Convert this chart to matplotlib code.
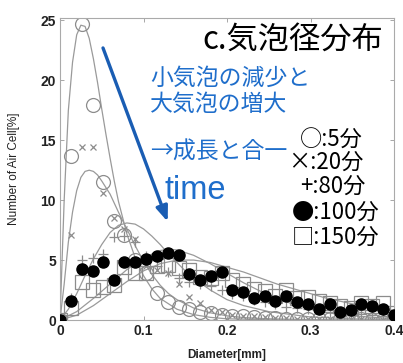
import matplotlib
matplotlib.use('Agg')
import matplotlib.pyplot as plt

plt.rcParams['font.family'] = ['Noto Sans CJK JP', 'DejaVu Sans']

# bin centres [mm] of the measured distribution
diameter = [0.000, 0.013, 0.026, 0.039, 0.052, 0.065, 0.077, 0.090,
            0.103, 0.116, 0.129, 0.142, 0.155, 0.168, 0.181, 0.194,
            0.206, 0.219, 0.232, 0.245, 0.258, 0.271, 0.284, 0.297,
            0.310, 0.323, 0.335, 0.348, 0.361, 0.374, 0.387, 0.400]

min5 = [0.0, 13.7, 24.7, 17.9, 11.5, 8.3, 7.1, 5.0, 3.9, 2.25, 1.5, 1.1,
        0.9, 0.7, 0.55, 0.45, 0.35, 0.3, 0.25, 0.2, 0.15, 0.12, 0.1, 0.1,
        0.08, 0.08, 0.05, 0.05, 0.05, 0.03, 0.03, 0.0]
min20 = [0.0, 7.1, 14.4, 14.4, 10.6, 8.5, 7.6, 6.8, 4.5, 4.2, 3.9, 3.0,
         1.9, 1.4, 0.8, 0.7, 0.4, 0.35, 0.3, 0.25, 0.2, 0.15, 0.12, 0.1,
         0.1, 0.08, 0.05, 0.05, 0.05, 0.03, 0.03, 0.0]
min80 = [0.0, 1.8, 5.0, 5.2, 5.5, 6.9, 7.0, 6.5, 5.3, 4.5, 4.0, 3.5,
         3.2, 3.0, 2.8, 2.5, 2.2, 2.0, 1.7, 1.5, 1.3, 1.1, 1.0, 0.9,
         0.8, 0.7, 0.6, 0.5, 0.5, 0.4, 0.3, 0.2]
min100 = [0.0, 1.6, 4.25, 4.1, 4.8, 3.3, 4.8, 4.8, 5.1, 5.35, 5.6, 5.4,
          3.8, 3.3, 3.7, 4.0, 2.5, 2.3, 1.8, 2.0, 1.6, 2.0, 1.5, 1.3,
          0.9, 1.3, 0.65, 0.8, 1.3, 1.15, 0.9, 0.4]
min150 = [0.0, 1.0, 3.2, 2.5, 2.75, 2.9, 4.4, 3.9, 3.9, 4.5, 4.6, 4.3,
          4.2, 3.6, 3.5, 3.9, 3.3, 3.0, 2.6, 2.4, 2.0, 2.5, 1.8, 1.9,
          1.6, 1.4, 1.2, 1.0, 1.4, 1.2, 1.4, 0.6]

# fitted curves
fit5_d = [0, 0.005, 0.01, 0.015, 0.02, 0.025, 0.03, 0.035, 0.04, 0.045, 0.05,
          0.055, 0.06, 0.065, 0.07, 0.08, 0.09, 0.1, 0.11, 0.12, 0.14, 0.16,
          0.18, 0.2, 0.25, 0.3, 0.4]
fit5_v = [0, 10, 17.5, 21.5, 23.8, 24.6, 24.5, 23.5, 21.8, 19.8, 17.6,
          15.5, 13.5, 11.6, 9.9, 7.2, 5.2, 3.7, 2.6, 1.8, 0.9, 0.45,
          0.22, 0.1, 0.02, 0, 0]
fit20_d = [0, 0.005, 0.01, 0.015, 0.02, 0.025, 0.03, 0.035, 0.04, 0.045, 0.05,
           0.06, 0.07, 0.08, 0.09, 0.1, 0.11, 0.12, 0.13, 0.14, 0.16, 0.18,
           0.2, 0.22, 0.25, 0.3, 0.35, 0.4]
fit20_v = [0, 3.0, 6.5, 9.0, 10.8, 11.9, 12.4, 12.5, 12.4, 12.1, 11.6,
           10.5, 9.0, 7.6, 6.2, 4.9, 3.8, 2.9, 2.2, 1.7, 1.0, 0.6,
           0.35, 0.2, 0.1, 0.03, 0, 0]
fit80_d = [0, 0.01, 0.02, 0.03, 0.04, 0.05, 0.06, 0.07, 0.08, 0.09, 0.1, 0.11,
           0.12, 0.13, 0.14, 0.15, 0.16, 0.18, 0.2, 0.22, 0.25, 0.3, 0.35, 0.4]
fit80_v = [0, 0.9, 2.2, 3.7, 5.1, 6.3, 7.3, 7.9, 8.1, 8.0, 7.6, 7.0,
           6.3, 5.5, 4.8, 4.1, 3.5, 2.5, 1.7, 1.2, 0.7, 0.25, 0.1, 0.03]
fit100_d = [0, 0.02, 0.04, 0.06, 0.08, 0.1, 0.12, 0.13, 0.14, 0.16, 0.18, 0.2,
            0.22, 0.24, 0.26, 0.28, 0.3, 0.32, 0.35, 0.4]
fit100_v = [0, 0.7, 1.8, 3.0, 4.2, 5.2, 5.8, 5.9, 5.85, 5.4, 4.7, 3.9,
            3.1, 2.4, 1.8, 1.3, 0.9, 0.6, 0.35, 0.1]
fit150_d = [0, 0.02, 0.04, 0.06, 0.08, 0.1, 0.12, 0.14, 0.16, 0.18, 0.2,
            0.22, 0.24, 0.26, 0.28, 0.3, 0.32, 0.34, 0.36, 0.38, 0.4]
fit150_v = [0, 0.4, 1.2, 2.2, 3.2, 4.1, 4.7, 5.0, 5.0, 4.8, 4.4,
            4.0, 3.5, 3.0, 2.6, 2.2, 1.8, 1.5, 1.2, 1.0, 0.8]

legend_lines = ['○:5分', '×:20分', '+:80分', '●:100分', '□:150分']

GREY = '#8c8c8c'
BLUE = '#1f6ecb'

fig = plt.figure(figsize=(4.03, 3.63), dpi=100)
ax = fig.add_axes([60 / 403, 1 - 320 / 363, 334 / 403, 302 / 363])

for d, v in [(fit5_d, fit5_v), (fit20_d, fit20_v), (fit80_d, fit80_v),
             (fit100_d, fit100_v), (fit150_d, fit150_v)]:
    ax.plot(d, v, color='#9a9a9a', lw=0.9, zorder=1)

ax.plot(diameter, min150, ls='none', marker='s', ms=9.5, mfc='none',
        mec=GREY, mew=0.9, zorder=2)
ax.plot(diameter, min5, ls='none', marker='o', ms=10, mfc='none',
        mec=GREY, mew=0.9, zorder=2)
ax.plot(diameter, min20, ls='none', marker='x', ms=4.5, mec=GREY,
        mew=0.9, zorder=2)
ax.plot(diameter, min80, ls='none', marker='+', ms=7, mec=GREY,
        mew=0.9, zorder=2)
ax.plot(diameter, min100, ls='none', marker='o', ms=8, mfc='black',
        mec='black', zorder=3)

ax.set_xlim(0, 0.4)
ax.set_ylim(0, 25.2)
ax.set_xticks([0, 0.1, 0.2, 0.3, 0.4])
ax.set_xticklabels(['0', '0.1', '0.2', '0.3', '0.4'])
ax.set_yticks([0, 5, 10, 15, 20, 25])
ax.tick_params(direction='in', top=True, right=True, length=3, width=0.6,
               color='#999999', labelsize=10, pad=3)
for lab in ax.get_xticklabels() + ax.get_yticklabels():
    lab.set_family(['Liberation Sans', 'DejaVu Sans'])
    lab.set_fontweight('bold')
    lab.set_color('#222222')
for sp in ax.spines.values():
    sp.set_color('#aaaaaa')
    sp.set_linewidth(0.8)

ax.set_xlabel('Diameter[mm]', fontsize=8.5, fontweight='bold',
              family=['Liberation Sans'], labelpad=8, color='#222222')
ax.set_ylabel('Number of Air Cell[%]', fontsize=8.5, family=['Liberation Sans'],
              color='#222222')
ax.yaxis.set_label_coords(-0.12, 0.5)

ax.text(0.967, 0.927, 'c.気泡径分布', transform=ax.transAxes, ha='right',
        va='center', fontsize=22.5)
ax.text(0.27, 0.80, '小気泡の減少と', transform=ax.transAxes, ha='left',
        va='center', fontsize=16.5, color=BLUE)
ax.text(0.27, 0.715, '大気泡の増大', transform=ax.transAxes, ha='left',
        va='center', fontsize=16.5, color=BLUE)
ax.text(0.27, 0.556, '→成長と合一', transform=ax.transAxes, ha='left',
        va='center', fontsize=16.5, color=BLUE)
ax.text(0.314, 0.43, 'time', transform=ax.transAxes, ha='left',
        va='center', fontsize=23.5, color=BLUE, family=['Liberation Sans'])

ax.annotate('', xy=(0.129, 8.2), xytext=(0.0515, 22.7),
            arrowprops=dict(arrowstyle='-|>,head_length=0.9,head_width=0.35',
                            color='#1a5db3', lw=2.4, shrinkA=0, shrinkB=0))

leg_x = [0.719, 0.683, 0.719, 0.695, 0.695]
leg_y = [0.596, 0.523, 0.444, 0.358, 0.275]
for s, x, y in zip(legend_lines, leg_x, leg_y):
    ax.text(x, y, s, transform=ax.transAxes, ha='left', va='center',
            fontsize=16)

fig.savefig('out.png', dpi=100)
